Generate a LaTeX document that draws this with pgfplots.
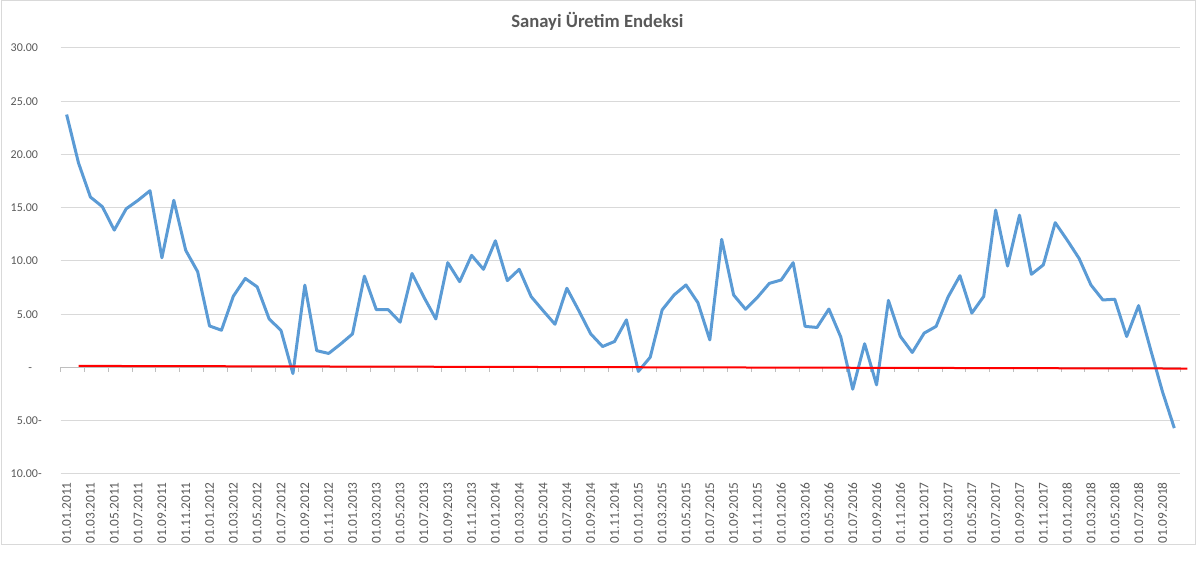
\documentclass[border=0pt]{standalone}
\usepackage{fontspec}
\setmainfont{Carlito}
\usepackage{pgfplots}
\pgfplotsset{compat=1.18}
\definecolor{serblue}{HTML}{5B9BD5}
\definecolor{txtgray}{HTML}{595959}
\definecolor{gridgray}{HTML}{D9D9D9}
\definecolor{axgray}{HTML}{BFBFBF}

\begin{document}
\begin{tikzpicture}[x=1pt,y=1pt]
\path[use as bounding box] (0,0) rectangle (900,424.5);
\draw[gridgray, line width=0.75pt] (0.75,15.75) rectangle (896.25,423.75);
\node[anchor=base, font=\fontsize{14}{16}\selectfont\bfseries, text=txtgray] at (448,403.7) {Sanayi Üretim Endeksi};
\begin{axis}[
  at={(45.5pt,69pt)}, anchor=south west,
  scale only axis, width=839.7pt, height=319.5pt,
  xmin=-0.5, xmax=93.5, ymin=-10, ymax=30,
  axis line style={draw=none},
  xtick style={draw=none}, ytick style={draw=none},
  ymajorgrids, grid style={gridgray, line width=0.75pt},
  ytick={-10,-5,0,5,10,15,20,25,30},
  yticklabels={10.00-,5.00-,-\phantom{0-},5.00\phantom{-},10.00\phantom{-},15.00\phantom{-},20.00\phantom{-},25.00\phantom{-},30.00\phantom{-}},
  yticklabel style={font=\fontsize{9}{11}\selectfont, text=txtgray, inner sep=0pt, anchor=east},
  yticklabel shift=14pt,
  xtick={0,2,...,92},
  xticklabels={01.01.2011,01.03.2011,01.05.2011,01.07.2011,01.09.2011,01.11.2011,
    01.01.2012,01.03.2012,01.05.2012,01.07.2012,01.09.2012,01.11.2012,
    01.01.2013,01.03.2013,01.05.2013,01.07.2013,01.09.2013,01.11.2013,
    01.01.2014,01.03.2014,01.05.2014,01.07.2014,01.09.2014,01.11.2014,
    01.01.2015,01.03.2015,01.05.2015,01.07.2015,01.09.2015,01.11.2015,
    01.01.2016,01.03.2016,01.05.2016,01.07.2016,01.09.2016,01.11.2016,
    01.01.2017,01.03.2017,01.05.2017,01.07.2017,01.09.2017,01.11.2017,
    01.01.2018,01.03.2018,01.05.2018,01.07.2018,01.09.2018},
  xticklabel style={font=\fontsize{10}{12}\selectfont, text=txtgray, inner sep=0pt, rotate=90, anchor=east},
  xticklabel shift=6pt,
  clip=false,
]
% zero axis line with tick marks at category boundaries
\draw[axgray, line width=0.75pt] (axis cs:-0.5,0) -- (axis cs:93.5,0);
\pgfplotsinvokeforeach{-0.5,1.5,...,93.5}{
  \draw[axgray, line width=0.75pt] (axis cs:#1,0) -- ++(0pt,-3.75pt);
}
\addplot[serblue, line width=2.25pt, line join=round, no markers] coordinates {
(0,23.75) (1,19.2) (2,16.0) (3,15.1) (4,12.9) (5,14.9) (6,15.7) (7,16.6)
(8,10.3) (9,15.7) (10,11.0) (11,9.0) (12,3.9) (13,3.5) (14,6.7) (15,8.36)
(16,7.57) (17,4.57) (18,3.47) (19,-0.57) (20,7.73) (21,1.58) (22,1.32) (23,2.2)
(24,3.15) (25,8.58) (26,5.43) (27,5.43) (28,4.26) (29,8.83) (30,6.6) (31,4.56)
(32,9.84) (33,8.06) (34,10.53) (35,9.22) (36,11.9) (37,8.16) (38,9.22) (39,6.66)
(40,5.34) (41,4.06) (42,7.44) (43,5.34) (44,3.16) (45,1.97) (46,2.44) (47,4.47)
(48,-0.37) (49,0.97) (50,5.41) (51,6.81) (52,7.75) (53,6.09) (54,2.59) (55,12.03)
(56,6.81) (57,5.47) (58,6.59) (59,7.9) (60,8.22) (61,9.84) (62,3.86) (63,3.76)
(64,5.49) (65,2.85) (66,-2.04) (67,2.23) (68,-1.63) (69,6.30) (70,2.92) (71,1.41)
(72,3.23) (73,3.86) (74,6.61) (75,8.62) (76,5.11) (77,6.68) (78,14.78) (79,9.53)
(80,14.3) (81,8.75) (82,9.63) (83,13.6) (84,11.97) (85,10.25) (86,7.75) (87,6.34)
(88,6.41) (89,2.91) (90,5.81) (91,1.72) (92,-2.25) (93,-5.69)
};
\addplot[red, line width=1.5pt, no markers] coordinates {
(1,0.15) (94.1,-0.1)
};
\end{axis}
\end{tikzpicture}
\end{document}
